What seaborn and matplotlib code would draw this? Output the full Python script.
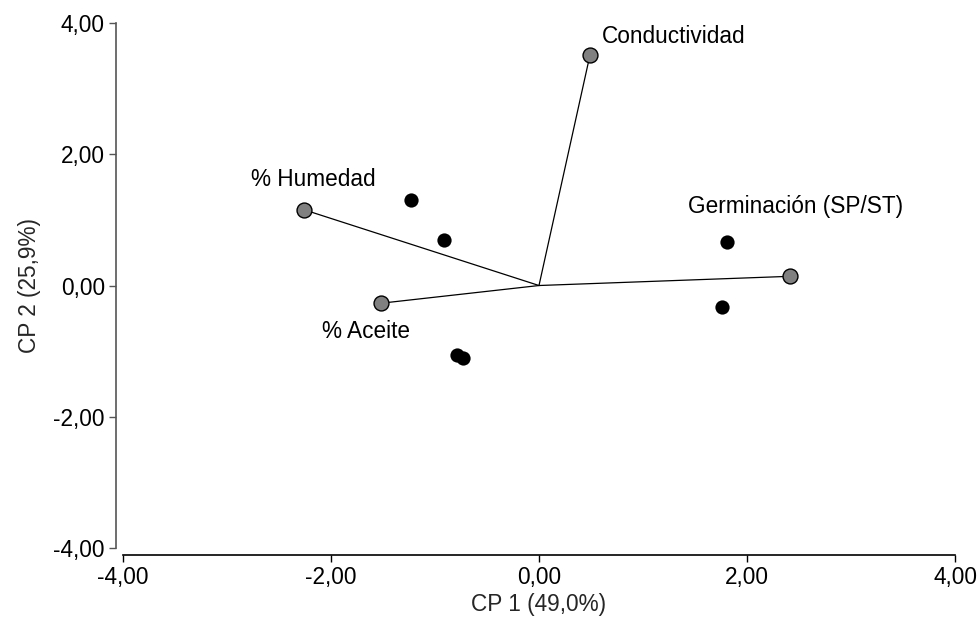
import matplotlib
matplotlib.use("Agg")
import matplotlib.pyplot as plt
import seaborn as sns
import pandas as pd

# Variable loadings (biplot vectors)
variables = ["Conductividad", "% Humedad", "% Aceite", "Germinación (SP/ST)"]
var_cp1 = [0.49, -2.26, -1.52, 2.41]
var_cp2 = [3.51, 1.155, -0.27, 0.14]

# Sample scores
obs_cp1 = [-1.23, -0.91, -0.79, -0.73, 1.81, 1.76]
obs_cp2 = [1.31, 0.70, -1.06, -1.11, 0.66, -0.33]

x_ticks = [-4, -2, 0, 2, 4]
y_ticks = [-4, -2, 0, 2, 4]

sns.set_style("white")
plt.rcParams["font.family"] = ["Liberation Sans", "DejaVu Sans"]
FS = 16.3

fig = plt.figure(figsize=(9.79, 6.17), dpi=100)
ax = fig.add_axes([0.1256, 0.1118, 0.8499, 0.8509])

# Vectors from the origin to each variable
for vx, vy in zip(var_cp1, var_cp2):
    ax.plot([0, vx], [0, vy], color="black", lw=0.9, zorder=1)

obs = pd.DataFrame({"CP1": obs_cp1, "CP2": obs_cp2})
var = pd.DataFrame({"CP1": var_cp1, "CP2": var_cp2, "var": variables})

sns.scatterplot(data=obs, x="CP1", y="CP2", ax=ax, color="black", s=105,
                linewidth=0, zorder=3)
sns.scatterplot(data=var, x="CP1", y="CP2", ax=ax, color="#808080", s=115,
                edgecolor="black", linewidth=1.0, zorder=3)

# Label anchor (left edge, vertical centre) for each variable
label_pos = {
    "Conductividad": (0.60, 3.80),
    "% Humedad": (-2.77, 1.61),
    "% Aceite": (-2.09, -0.70),
    "Germinación (SP/ST)": (1.43, 1.20),
}
for name in variables:
    lx, ly = label_pos[name]
    ax.text(lx, ly, name, fontsize=FS, ha="left", va="center", color="black")

ax.set_xlim(-4, 4)
ax.set_ylim(-4, 4)
ax.set_xticks(x_ticks)
ax.set_yticks(y_ticks)
ax.set_xticklabels([f"{v:.2f}".replace(".", ",") for v in x_ticks])
ax.set_yticklabels([f"{v:.2f}".replace(".", ",") for v in y_ticks])
ax.set_xlabel("CP 1 (49,0%)", fontsize=FS, labelpad=3)
ax.set_ylabel("CP 2 (25,9%)", fontsize=FS, labelpad=9)

sns.despine(ax=ax, offset=5)
ax.spines["left"].set_color("#555555")
ax.spines["bottom"].set_color("black")
for sp in ("left", "bottom"):
    ax.spines[sp].set_linewidth(1.2)
ax.tick_params(axis="both", which="major", length=5, width=1.0,
               bottom=True, left=True, colors="black", pad=3, labelsize=FS)
ax.tick_params(axis="y", color="#555555")

fig.savefig("out.png", dpi=100)
